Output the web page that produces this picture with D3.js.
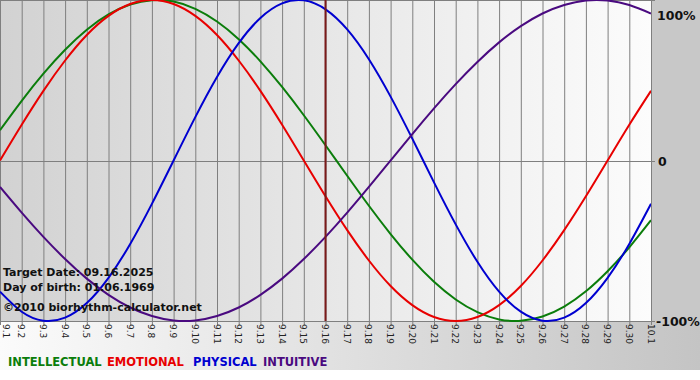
<!DOCTYPE html>
<html><head><meta charset="utf-8">
<script src="https://cdn.jsdelivr.net/npm/d3@7"></script>
<style>html,body{margin:0;padding:0;background:#fff;}svg{display:block;}</style>
</head><body>
<svg id="c" width="700" height="380"></svg>
<script>
const dayLabels = ["9.1","9.2","9.3","9.4","9.5","9.6","9.7","9.8","9.9","9.10","9.11","9.12","9.13","9.14","9.15","9.16","9.17","9.18","9.19","9.20","9.21","9.22","9.23","9.24","9.25","9.26","9.27","9.28","9.29","9.30","10.1"];
const intellectual = [0.189,0.372,0.541,0.690,0.815,0.910,0.972,0.999,0.990,0.945,0.866,0.756,0.618,0.458,0.282,0.095,-0.095,-0.282,-0.458,-0.618,-0.756,-0.866,-0.945,-0.990,-0.999,-0.972,-0.910,-0.815,-0.690,-0.541,-0.372];
const emotional = [0,0.223,0.434,0.623,0.782,0.901,0.975,1,0.975,0.901,0.782,0.623,0.434,0.223,0,-0.223,-0.434,-0.623,-0.782,-0.901,-0.975,-1,-0.975,-0.901,-0.782,-0.623,-0.434,-0.223,0,0.223,0.434];
const physical = [-0.817,-0.942,-0.998,-0.979,-0.888,-0.731,-0.520,-0.270,0,0.270,0.520,0.731,0.888,0.979,0.998,0.942,0.817,0.631,0.398,0.136,-0.136,-0.398,-0.631,-0.817,-0.942,-0.998,-0.979,-0.888,-0.731,-0.520,-0.270];
const intuitive = [-0.165,-0.325,-0.476,-0.614,-0.736,-0.837,-0.916,-0.969,-0.997,-0.997,-0.969,-0.916,-0.837,-0.736,-0.614,-0.476,-0.325,-0.165,0,0.165,0.325,0.476,0.614,0.736,0.837,0.916,0.969,0.997,0.997,0.969,0.916];
const seriesNames = ["INTELLECTUAL","EMOTIONAL","PHYSICAL","INTUITIVE"];
const yTickValues = [1,0,-1];
const yTickLabels = ["100%","0","-100%"];
const targetLabel = "9.16";
const infoLines = ["Target Date: 09.16.2025","Day of birth: 01.06.1969","\u00A92010 biorhythm-calculator.net"];

const colors = {INTELLECTUAL:"#0b7d0b",EMOTIONAL:"#e80000",PHYSICAL:"#0000d0",INTUITIVE:"#4a0a80"};
const seriesData = {INTELLECTUAL:intellectual,EMOTIONAL:emotional,PHYSICAL:physical,INTUITIVE:intuitive};

const svg = d3.select("#c");
const W = 700, H = 380;
const plotL = 0, plotR = 651, plotT = 0, plotB = 321;
const x = d3.scalePoint().domain(dayLabels).range([plotL, plotR]);
const y = d3.scaleLinear().domain([-1,1]).range([plotB, plotT]);

const defs = svg.append("defs");
const g1 = defs.append("linearGradient").attr("id","plotGrad").attr("x1","0").attr("x2","1").attr("y1","0").attr("y2","0");
g1.append("stop").attr("offset","0").attr("stop-color","#d2d2d2");
g1.append("stop").attr("offset","1").attr("stop-color","#fcfcfc");
const g2 = defs.append("linearGradient").attr("id","stripGrad").attr("x1","0").attr("x2","1").attr("y1","0").attr("y2","0");
g2.append("stop").attr("offset","0").attr("stop-color","#fbfbfb");
g2.append("stop").attr("offset","1").attr("stop-color","#c4c4c4");
defs.append("clipPath").attr("id","plotClip").append("rect").attr("x",plotL).attr("y",plotT-2).attr("width",plotR-plotL).attr("height",plotB-plotT+4);

svg.append("rect").attr("x",0).attr("y",0).attr("width",W).attr("height",H).attr("fill","#fff");
svg.append("rect").attr("x",0).attr("y",plotB).attr("width",W).attr("height",370-plotB).attr("fill","url(#stripGrad)");
svg.append("rect").attr("x",plotL).attr("y",plotT).attr("width",plotR-plotL).attr("height",plotB-plotT).attr("fill","url(#plotGrad)");
svg.append("rect").attr("x",plotR).attr("y",0).attr("width",W-plotR).attr("height",plotB).attr("fill","#c8c8c8");

// vertical grid
svg.append("g").selectAll("line").data(dayLabels).join("line")
  .attr("x1",d=>x(d)+0.5).attr("x2",d=>x(d)+0.5).attr("y1",plotT).attr("y2",plotB+4)
  .attr("stroke","#7f7f7f").attr("stroke-width",1);
// horizontal lines
svg.append("g").selectAll("line").data(yTickValues).join("line")
  .attr("x1",plotL).attr("x2",plotR+4).attr("y1",d=>Math.round(y(d))+0.5).attr("y2",d=>Math.round(y(d))+0.5)
  .attr("stroke","#7f7f7f").attr("stroke-width",1);

// x labels
svg.append("g").selectAll("text").data(dayLabels).join("text")
  .attr("transform",(d,i)=>`translate(${Math.max(x(d)-3.5,3)},${plotB+3}) rotate(90)`)
  .attr("font-family","DejaVu Sans, Verdana, sans-serif").attr("font-size",9).attr("fill","#222")
  .text(d=>d);

// y labels
svg.append("g").selectAll("text").data(yTickValues).join("text")
  .attr("x",(d,i)=>i===1?658:(i===0?657:656)).attr("y",(d,i)=>i===0?20:(i===1?166:326))
  .attr("font-family","DejaVu Sans, Verdana, sans-serif").attr("font-weight","bold").attr("font-size",12.5).attr("fill","#111")
  .text((d,i)=>yTickLabels[i]);

// curves
const line = d3.line().x((d,i)=>x(dayLabels[i])).y(d=>y(d)).curve(d3.curveNatural);
const cg = svg.append("g").attr("clip-path","url(#plotClip)");
seriesNames.forEach(n=>{
  cg.append("path").datum(seriesData[n]).attr("d",line).attr("fill","none")
    .attr("stroke",colors[n]).attr("stroke-width",2);
});

// target line
svg.append("line").attr("x1",x(targetLabel)).attr("x2",x(targetLabel)).attr("y1",plotT).attr("y2",plotB)
  .attr("stroke","#7a1a1a").attr("stroke-width",2);

// info text
const infoY = [276,291,311];
const infoSize = [11,11,11];
svg.append("g").selectAll("text").data(infoLines).join("text")
  .attr("x",3).attr("y",(d,i)=>infoY[i])
  .attr("font-family","DejaVu Sans, Verdana, sans-serif").attr("font-weight","bold")
  .attr("font-size",(d,i)=>infoSize[i]).attr("fill","#111").text(d=>d);

// legend
const legX = [8,107,193,263];
svg.append("g").selectAll("text").data(seriesNames).join("text")
  .attr("x",(d,i)=>legX[i]).attr("y",366)
  .attr("font-family","DejaVu Sans, Verdana, sans-serif").attr("font-weight","bold").attr("font-size",11.5)
  .attr("fill",d=>colors[d]).text(d=>d);
</script>
</body></html>
